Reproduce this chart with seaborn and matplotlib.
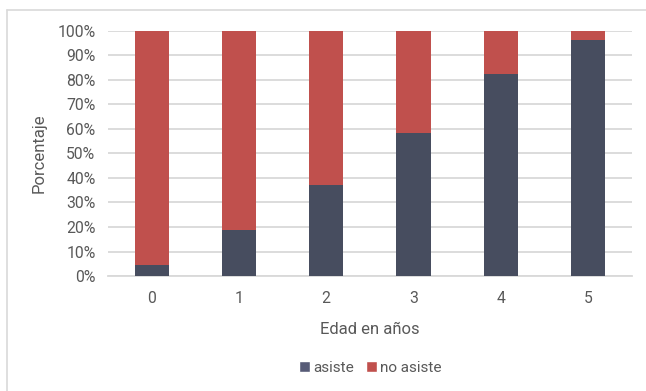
import numpy as np
import pandas as pd
import seaborn as sns
from matplotlib import pyplot as plt
from matplotlib.patches import Patch
from matplotlib.lines import Line2D

edades = ['0', '1', '2', '3', '4', '5']
asiste = [4.6, 18.7, 37.2, 58.2, 82.6, 96.4]
no_asiste = [100 - v for v in asiste]

COLOR_ASISTE = '#474D5F'
COLOR_NO = '#C0504D'
TEXT = '#595959'
GRID = '#D9D9D9'

sns.set_theme(style='white')
plt.rcParams['font.family'] = ['Roboto', 'DejaVu Sans']

df = pd.DataFrame({'edad': edades, 'asiste': asiste, 'no_asiste': no_asiste})
df['total'] = [a + n for a, n in zip(asiste, no_asiste)]

fig = plt.figure(figsize=(6.46, 3.91), dpi=100)
ax = fig.add_axes([0.167, 0.294, 0.811, 0.627])

# stacked: full bar in red, then "asiste" drawn on top
sns.barplot(data=df, x='edad', y='total', color=COLOR_NO, width=0.39,
            saturation=1, linewidth=0, ax=ax, zorder=3)
sns.barplot(data=df, x='edad', y='asiste', color=COLOR_ASISTE, width=0.39,
            saturation=1, linewidth=0, ax=ax, zorder=4)

ax.set_ylim(0, 100)
ax.set_xlim(-0.5, 5.5)
ax.set_yticks(np.arange(0, 101, 10))
ax.set_yticklabels([f'{v}%' for v in range(0, 101, 10)])
ax.yaxis.grid(True, color=GRID, linewidth=1.3, zorder=0)
ax.set_axisbelow(True)
for s in ['top', 'right', 'left']:
    ax.spines[s].set_visible(False)
ax.spines['bottom'].set_color(GRID)
ax.spines['bottom'].set_linewidth(1.3)
ax.tick_params(axis='both', length=0, colors=TEXT, labelsize=11.3)
ax.tick_params(axis='x', pad=11)
ax.tick_params(axis='y', pad=9)

ax.set_xlabel('Edad en años', color=TEXT, fontsize=12, labelpad=11)
ax.set_ylabel('Porcentaje', color=TEXT, fontsize=12, labelpad=8)

handles = [Patch(facecolor='#575B77', label='asiste'),
           Patch(facecolor=COLOR_NO, label='no asiste')]
leg = fig.legend(handles=handles, loc='center', bbox_to_anchor=(0.573, 0.06),
                 ncol=2, frameon=False, fontsize=11, handlelength=0.7,
                 handleheight=0.7, handletextpad=0.2, columnspacing=0.8)
for t in leg.get_texts():
    t.set_color(TEXT)

# outer chart frame (left and top edges visible)
fig.add_artist(Line2D([7 / 646, 7 / 646], [0, 1 - 10 / 391], color=GRID,
                      linewidth=1.2, transform=fig.transFigure))
fig.add_artist(Line2D([7 / 646, 1], [1 - 10 / 391, 1 - 10 / 391], color=GRID,
                      linewidth=1.2, transform=fig.transFigure))

fig.savefig('out.png', dpi=100)
